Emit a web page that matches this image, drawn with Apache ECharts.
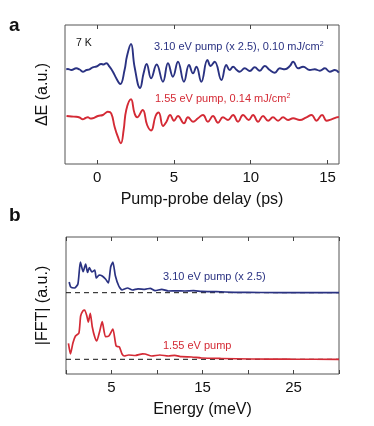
<!DOCTYPE html>
<html>
<head>
<meta charset="utf-8">
<script src="https://cdn.jsdelivr.net/npm/echarts@6/dist/echarts.min.js"></script>
<style>html,body{margin:0;padding:0;background:#fff}#c{width:374px;height:426px}</style>
</head>
<body>
<div id="c"></div>
<script>
// ---- Panel a: time-domain traces (delay in ps, ΔE in a.u.) ----
const delayBlue = [-2.02,-1.92,-1.68,-1.37,-1.15,-0.94,-0.70,-0.50,-0.29,-0.05,0.26,0.41,0.59,0.80,1.02,1.24,1.50,1.78,1.94,2.20,2.43,2.79,3.02,3.22,3.51,3.87,4.28,4.61,4.93,5.26,5.65,5.98,6.24,6.46,6.78,7.18,7.39,7.65,8.09,8.41,8.63,8.85,9.09,9.28,9.61,9.94,10.26,10.59,10.91,11.24,11.57,11.89,12.22,12.55,12.76,13.09,13.41,13.85,14.17,14.50,14.83,15.15,15.48,15.74];
const dEBlue = [94.7,95,94,95.7,94.5,92.3,94,94.7,96.7,97.5,100,99.5,100.7,97.3,92.3,85.7,80,94,108,120,97.3,76,90.7,100,85.7,99.5,82.3,100.7,87.3,102.3,82.3,99,90.7,97.3,82.3,104,98,102.3,84,99,94,97.3,94,92.3,95.7,93,96.7,93.3,98,94,91.3,95.7,94.7,98,102.3,95.7,97.3,94,94.7,93.3,95.7,92.3,94,91.3];
const delayRed = [-2.00,-1.68,-1.37,-1.15,-0.94,-0.76,-0.61,-0.44,-0.29,0.04,0.37,0.54,0.69,0.91,1.13,1.34,1.54,1.72,1.89,2.20,2.43,2.60,2.96,3.25,3.51,3.80,4.00,4.29,4.50,4.75,5.00,5.26,5.65,5.91,6.24,6.56,6.89,7.21,7.54,7.87,8.19,8.52,8.85,9.17,9.50,9.87,10.15,10.48,10.80,11.13,11.45,11.78,12.11,12.43,12.76,13.20,13.63,13.96,14.28,14.65,14.94,15.26,15.59,15.74];
const dERed = [48,47.5,47.3,46.5,44.7,46,46.7,45.5,45.7,48,49,51,52.3,50.7,37.3,27.3,20.7,34,54,64.7,50.7,46.7,54,39,33.5,48,51.5,38,42,49,43.3,48,40.7,46.7,42.3,45.7,49,42.3,48,41.3,46.7,44,49,42.3,49,44,49,42.3,48,43.3,46.7,43.3,46.7,44,45.7,44,46.7,49,43.3,49,43.3,44.7,46.7,47];
const delayTicks = [0,5,10,15];

// ---- Panel b: FFT amplitude (energy in meV, |FFT| in a.u.) ----
const energyBlue = [0.35,0.52,0.93,1.31,1.58,1.88,2.16,2.37,2.56,2.84,3.16,3.33,3.65,3.98,4.34,4.66,4.91,5.15,5.43,5.80,6.16,6.43,6.76,7.31,7.91,8.67,9.25,9.79,10.52,11.25,12.16,13.06,14.01,14.89,16.52,18.52,21.43,25.79,30];
const fftBlue = [92,87,86,90,112,102.3,110,101.5,106.5,102,104,96,99,98,95,91,107,112,98,88,84,85,86,84,85.2,84.7,85.7,83.3,84.7,83,83.2,83,83.3,82.7,82.3,81.7,81.5,81.3,81.3];
const energyRed = [0.27,0.49,0.76,1.04,1.42,1.61,1.85,2.05,2.29,2.45,2.67,2.89,3.16,3.38,3.69,3.98,4.34,4.71,5.15,5.51,5.87,6.16,6.41,6.89,7.61,8.42,8.70,9.43,10.31,11.25,11.94,12.70,13.80,14.89,17.07,20.34,24.70,30];
const fftRed = [30.7,20,31,38,41,58,63,64,58,52,60.7,47,37,33,42.3,52.3,37.3,38,45,28,27,20,18,19,18.5,20.2,20,18,19,18,18.7,17.3,17,16,15.5,15,14.8,14.7];
const baselineBlue = 81.3;
const baselineRed = 14.7;
const energyLabels = [5,15,25];

const BLUE = '#2a3282';
const RED = '#d42a35';
const FONT = '"Liberation Sans", Arial, sans-serif';

const zip = (xs, ys) => xs.map((x, i) => [x, ys[i]]);

const chart = echarts.init(document.getElementById('c'), null, {renderer: 'canvas'});

const tickStyle = {show: true, inside: true, length: 4, lineStyle: {color: '#444', width: 1}};
const labelStyle = {color: '#111', fontSize: 15, fontFamily: FONT, margin: 6};
const titleStyle = {fontSize: 16, fontFamily: FONT, color: '#111'};

const option = {
  backgroundColor: '#fff',
  animation: false,
  grid: [
    {left: 65, top: 25, width: 274, height: 139, show: true, borderColor: '#555', borderWidth: 1, containLabel: false},
    {left: 66, top: 237, width: 273, height: 137, show: true, borderColor: '#555', borderWidth: 1, containLabel: false}
  ],
  xAxis: [
    {type: 'value', gridIndex: 0, min: -2.1, max: 15.75, position: 'bottom',
     axisLine: {show: false}, splitLine: {show: false},
     axisTick: Object.assign({customValues: delayTicks}, tickStyle),
     axisLabel: Object.assign({customValues: delayTicks}, labelStyle),
     name: 'Pump-probe delay (ps)', nameLocation: 'middle', nameGap: 28, nameTextStyle: titleStyle},
    {type: 'value', gridIndex: 0, min: -2.1, max: 15.75, position: 'top',
     axisLine: {show: false}, splitLine: {show: false},
     axisTick: Object.assign({customValues: delayTicks}, tickStyle),
     axisLabel: {show: false}},
    {type: 'value', gridIndex: 1, min: 0, max: 30, interval: 5, position: 'bottom',
     axisLine: {show: false}, splitLine: {show: false},
     axisTick: tickStyle,
     axisLabel: Object.assign({customValues: energyLabels}, labelStyle),
     name: 'Energy (meV)', nameLocation: 'middle', nameGap: 28, nameTextStyle: titleStyle},
    {type: 'value', gridIndex: 1, min: 0, max: 30, interval: 5, position: 'top',
     axisLine: {show: false}, splitLine: {show: false},
     axisTick: tickStyle, axisLabel: {show: false}}
  ],
  yAxis: [
    {type: 'value', gridIndex: 0, min: 0, max: 139, show: true,
     axisLine: {show: false}, axisTick: {show: false}, axisLabel: {show: false}, splitLine: {show: false},
     name: 'ΔE (a.u.)', nameLocation: 'middle', nameGap: 14, nameRotate: 90, nameTextStyle: titleStyle},
    {type: 'value', gridIndex: 1, min: 0, max: 137, show: true,
     axisLine: {show: false}, axisTick: {show: false}, axisLabel: {show: false}, splitLine: {show: false},
     name: '|FFT| (a.u.)', nameLocation: 'middle', nameGap: 15, nameRotate: 90, nameTextStyle: titleStyle}
  ],
  series: [
    {type: 'line', xAxisIndex: 0, yAxisIndex: 0, data: zip(delayBlue, dEBlue), showSymbol: false, smooth: 0.45,
     lineStyle: {color: BLUE, width: 1.9}},
    {type: 'line', xAxisIndex: 0, yAxisIndex: 0, data: zip(delayRed, dERed), showSymbol: false, smooth: 0.45,
     lineStyle: {color: RED, width: 1.9}},
    {type: 'line', xAxisIndex: 2, yAxisIndex: 1, data: [[0, baselineBlue], [30, baselineBlue]], showSymbol: false,
     lineStyle: {color: '#111', width: 1, type: [5, 4]}, z: 1},
    {type: 'line', xAxisIndex: 2, yAxisIndex: 1, data: [[0, baselineRed], [30, baselineRed]], showSymbol: false,
     lineStyle: {color: '#111', width: 1, type: [5, 4]}, z: 1},
    {type: 'line', xAxisIndex: 2, yAxisIndex: 1, data: zip(energyBlue, fftBlue), showSymbol: false, smooth: 0.2,
     lineStyle: {color: BLUE, width: 1.7}, z: 3},
    {type: 'line', xAxisIndex: 2, yAxisIndex: 1, data: zip(energyRed, fftRed), showSymbol: false, smooth: 0.2,
     lineStyle: {color: RED, width: 1.7}, z: 3}
  ],
  graphic: [
    {type: 'text', left: 9, top: 16, style: {text: 'a', font: 'bold 19px ' + FONT, fill: '#111'}},
    {type: 'text', left: 9, top: 206, style: {text: 'b', font: 'bold 19px ' + FONT, fill: '#111'}},
    {type: 'text', left: 76, top: 38, style: {text: '7 K', font: '10.5px ' + FONT, fill: '#111'}},
    {type: 'text', left: 154, top: 41, style: {rich: {n: {font: '11px ' + FONT, fill: BLUE}, s: {font: '7px ' + FONT, fill: BLUE, verticalAlign: 'top', padding: [0,0,5,0]}}, text: '{n|3.10 eV pump (x 2.5), 0.10 mJ/cm}{s|2}'}},
    {type: 'text', left: 155, top: 93, style: {rich: {n: {font: '11px ' + FONT, fill: RED}, s: {font: '7px ' + FONT, fill: RED, verticalAlign: 'top', padding: [0,0,5,0]}}, text: '{n|1.55 eV pump, 0.14 mJ/cm}{s|2}'}},
    {type: 'text', left: 163, top: 271, style: {text: '3.10 eV pump (x 2.5)', font: '11px ' + FONT, fill: BLUE}},
    {type: 'text', left: 163, top: 340, style: {text: '1.55 eV pump', font: '11px ' + FONT, fill: RED}}
  ]
};
chart.setOption(option);
</script>
</body>
</html>
